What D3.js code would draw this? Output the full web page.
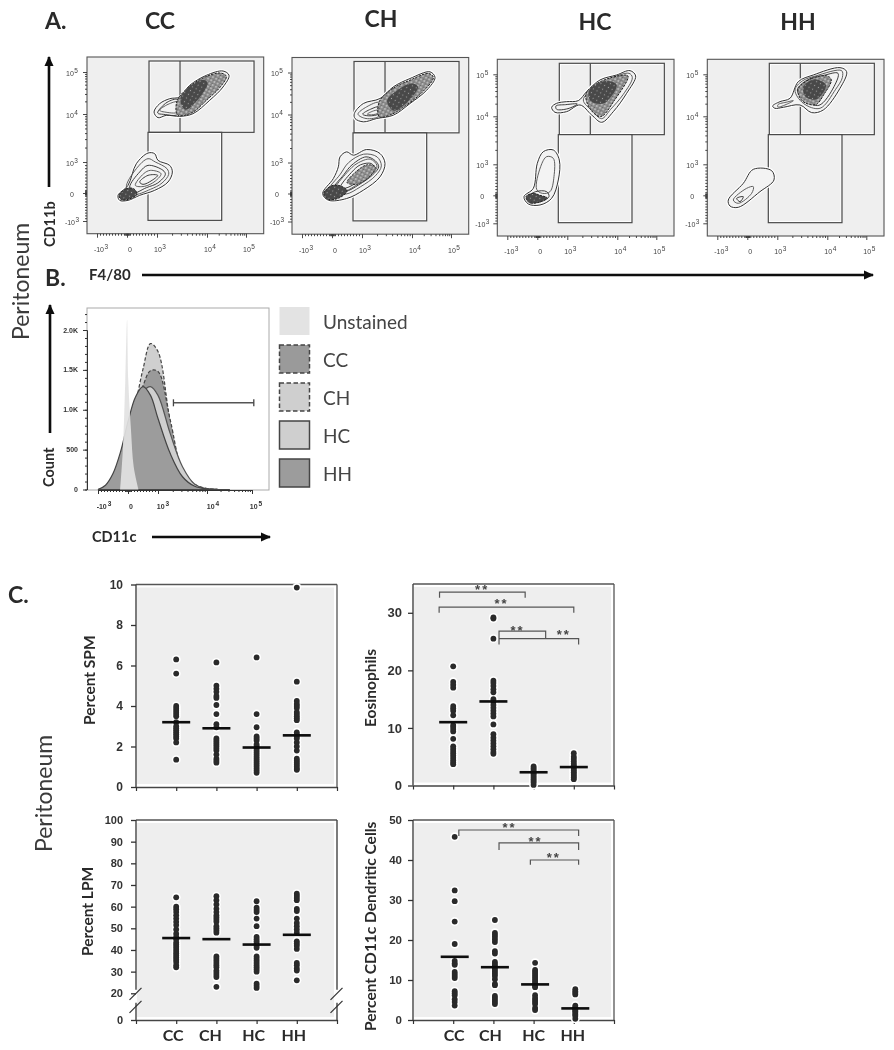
<!DOCTYPE html>
<html><head><meta charset="utf-8">
<script src="https://cdn.jsdelivr.net/npm/d3@7/dist/d3.min.js"></script>
<style>
html,body{margin:0;padding:0;background:#fff}
svg{display:block}
.h{font-family:Lato,sans-serif;font-weight:700;fill:#2a2a2a}
.t{font-family:"Liberation Sans",Arial,sans-serif;font-weight:700;fill:#333}
.lg{font-family:Lato,sans-serif;font-weight:400;fill:#444}
</style></head><body>
<div id="c"></div>
<script>
// ---------- shared labels ----------
const categories = ["CC","CH","HC","HH"];
const decadeTicks = [-1,0,1,2,3];
const decadeBase = ["-10","0","10","10","10"];
const decadeExp = ["3","","3","4","5"];

// ---------- panel A: contour levels in display channels (0-530) ----------
const ccUpper = [
 [[201,165],[218,140],[248,125],[278,120],[308,85],[358,55],[408,42],[426,55],[408,90],[368,130],[318,170],[278,178],[238,175],[213,182]],
 [[218,160],[243,142],[273,135],[273,165],[233,165]],
 [[212,168],[240,136],[272,128],[272,172],[230,172]]];
const ccUpperCore = [[270,132],[300,95],[350,62],[400,48],[418,58],[398,92],[360,128],[315,167],[272,174]];
const ccUpperDark = [[280,125],[312,85],[350,68],[362,78],[335,125],[295,158]];
const ccLower = [
 [[93,415],[123,385],[148,320],[183,288],[203,290],[213,310],[248,325],[256,345],[243,375],[203,400],[158,415],[123,430],[98,430]],
 [[118,392],[148,335],[183,305],[205,315],[240,335],[245,352],[225,378],[190,397],[140,412]],
 [[128,390],[158,345],[183,325],[228,340],[235,352],[212,378],[178,392],[138,408]],
 [[145,385],[170,350],[190,340],[222,350],[205,372],[172,388]],
 [[158,375],[183,355],[212,355],[195,370],[168,382]]];
const ccLowerDark = [[96,415],[118,395],[140,395],[150,412],[123,427],[103,428]];
const ccLowerCore = null;

const chUpper = [
 [[187,168],[214,138],[264,123],[304,88],[354,63],[414,43],[429,60],[404,98],[354,138],[304,173],[254,183],[214,193],[189,183]],
 [[198,170],[224,148],[262,135],[262,175],[222,183]],
 [[212,170],[236,155],[262,148],[262,168],[230,175]],
 [[226,170],[245,160],[262,158],[260,166],[238,172]]];
const chUpperCore = [[262,132],[304,92],[354,68],[410,48],[424,60],[390,105],[340,145],[300,170],[262,178]];
const chUpperDark = [[285,130],[320,95],[360,78],[378,88],[345,135],[305,160]];
const chLower = [
 [[92,408],[124,363],[139,328],[144,298],[164,283],[184,293],[224,276],[264,288],[279,318],[264,358],[214,398],[164,423],[109,428]],
 [[110,400],[145,350],[170,315],[215,290],[255,298],[268,325],[250,355],[205,388],[160,410]],
 [[122,398],[155,352],[180,322],[222,298],[250,310],[260,328],[242,352],[200,382],[160,402]],
 [[130,395],[165,345],[195,318],[235,305],[255,325],[240,350],[200,378],[160,400]],
 [[145,390],[178,345],[205,322],[238,318],[246,330],[228,352],[195,375],[160,392]]];
const chLowerDark = [[95,408],[118,385],[145,385],[165,400],[140,422],[108,425]];
const chLowerCore = [[165,375],[195,340],[225,322],[250,328],[235,355],[195,380]];

const hcUpper = [
 [[163,144],[178,132],[208,127],[243,124],[268,97],[308,62],[358,47],[398,34],[415,50],[388,102],[348,157],[313,189],[283,167],[248,137],[208,157],[173,159]],
 [[258,122],[290,85],[330,62],[395,42],[405,55],[378,105],[340,150],[313,178],[285,155]],
 [[176,140],[205,136],[240,134],[212,148],[178,150]]];
const hcUpperCore = [[266,104],[300,72],[362,50],[392,50],[350,125],[310,172],[278,148]];
const hcUpperDark = [[276,92],[325,65],[358,76],[320,132],[280,125]];
const hcLower = [
 [[80,412],[108,387],[120,312],[138,277],[168,272],[186,302],[183,362],[163,417],[128,437],[93,434]],
 [[118,390],[130,322],[148,292],[168,297],[170,352],[158,397],[135,402]],
 [[92,414],[115,397],[148,397],[155,412],[128,428],[100,428]]];
const hcLowerDark = [[86,412],[108,402],[128,408],[150,416],[120,430],[96,430]];
const hcLowerCore = null;

const hhUpper = [
 [[196,140],[218,127],[248,117],[273,67],[318,47],[398,25],[418,37],[398,87],[348,152],[313,160],[278,137],[228,144],[203,147]],
 [[263,92],[285,65],[325,50],[403,34],[405,55],[385,90],[338,147],[288,132]],
 [[270,92],[300,62],[350,48],[392,42],[380,82],[335,138],[296,125]],
 [[212,136],[240,128],[258,124],[240,134],[212,143]]];
const hhUpperCore = [[272,90],[312,58],[360,50],[372,62],[350,105],[325,136],[285,125]];
const hhUpperDark = [[288,82],[323,60],[356,78],[328,120],[296,114]];
const hhLower = [
 [[63,422],[108,372],[138,330],[193,334],[200,362],[158,397],[93,444],[68,440]],
 [[78,422],[118,387],[138,382],[133,402],[93,432]],
 [[88,417],[108,412],[98,427]]];

const contourSets = [
 {upper:ccUpper, core:ccUpperCore, dark:ccUpperDark, lower:ccLower, lowDark:ccLowerDark, lowCore:ccLowerCore},
 {upper:chUpper, core:chUpperCore, dark:chUpperDark, lower:chLower, lowDark:chLowerDark, lowCore:chLowerCore},
 {upper:hcUpper, core:hcUpperCore, dark:hcUpperDark, lower:hcLower, lowDark:hcLowerDark, lowCore:hcLowerCore},
 {upper:hhUpper, core:hhUpperCore, dark:hhUpperDark, lower:hhLower, lowDark:null, lowCore:null}];

// gates in the same channels
const gateUpper = [186,12,501,226];
const gateDivider = 279;
const gateLower = [183,226,404,490];

// ---------- panel B: histograms (logicle decades / counts) ----------
const histBins = [-1,-0.75,-0.5,-0.25,0,0.25,0.5,0.75,1,1.25,1.5,1.75,2,2.25,2.5];
const histHH = [0,54,200,470,850,1160,1290,1180,890,450,160,40,8,0,0];
const histHC = [0,25,115,345,700,1015,1225,1290,1180,700,285,65,8,0,0];
const histCC = [0,20,95,300,690,1010,1300,1490,1480,870,240,67,12,0,0];
const histCH = [0,15,100,330,750,1080,1510,1830,1730,850,230,60,10,0,0];
const unstainedBins = [-0.26,-0.17,-0.09,-0.03,0.01,0.1,0.19,0.35];
const unstainedCounts = [0,510,1370,2130,1370,745,285,0];
const histGate = [1.315,3.04,1087];
const countTicks = [0,500,1000,1500,2000];
const countLabels = ["0","500","1.0K","1.5K","2.0K"];
const legendNames = ["Unstained","CC","CH","HC","HH"];

// ---------- panel C: dot plots ----------
const spmCC=[6.3,5.6,4.0,3.9,3.8,3.7,3.6,3.5,3.2,3.0,2.9,2.8,2.7,2.6,2.5,2.4,2.2,1.35];
const spmCH=[6.15,5.0,4.85,4.7,4.5,4.4,4.05,3.6,3.1,2.95,2.4,2.3,2.2,2.1,2.0,1.9,1.8,1.6,1.4,1.3,1.2];
const spmHC=[6.4,3.6,2.95,2.5,2.4,2.3,2.1,2.0,1.9,1.8,1.7,1.6,1.5,1.4,1.3,1.2,1.1,1.0,0.9,0.8,0.7];
const spmHH=[9.85,5.2,4.25,4.1,4.0,3.9,3.7,3.6,3.5,3.4,3.3,2.7,2.6,2.5,2.4,2.2,2.0,1.8,1.4,1.3,1.2,1.1,1.0,0.9,0.85];
const spmMedians=[3.2,2.9,1.95,2.55];
const spmTicks=[0,2,4,6,8,10];

const eosCC=[20.7,18,17.5,17,13.8,13.4,13,12.2,10.5,10.2,9.8,9.4,8.1,6.8,6.4,6,5.6,5.2,4.8,4.4,4,3.7];
const eosCH=[29.2,29,25.5,18.2,17.8,17.3,16.7,16.2,15,14.5,14,13.5,13,12.5,12,10.6,8.9,8.3,7.8,7.3,6.8,6.3,5.8,5.5];
const eosHC=[3.3,3,2.7,2.4,2.2,2,1.7,1.4,1.1,0.8,0.5,0.1];
const eosHH=[5.6,5,4.6,4.2,3.8,3.5,3.2,2.9,2.6,2.3,2,1.7,1.4,1.1];
const eosMedians=[11,14.6,2.3,3.2];
const eosTicks=[0,10,20,30];
const eosBrackets=[[0.66,2.79,33.6,32.6,34.4,1.72],[0.65,4.0,31,30,32,2.2],[2.14,3.3,26.8,25.6,27.4,2.6],[2.14,4.12,25.5,24.5,26.7,3.75]];

const lpmCC=[64.3,60,58.8,57.5,56,54.5,53,51.5,49.5,47.5,46,45,43.5,42.5,41.5,40.5,39.5,38.5,37.5,36.5,35.5,34.5,33,32];
const lpmCH=[64.8,63,61,59,57.5,56,55,54,53,51,50,49,48,37,36,35,34,33,32,30.5,29.5,28.5,27.5,23];
const lpmHC=[62.5,59.5,58.5,57.5,54.5,51,46,45,44,43,42,41,37,36,35,34,33,32,31,30,24.5,23.5,22.5];
const lpmHH=[66,65,64,63,59,58,54.5,52.5,51,49.5,48,44,43,42,40.5,34,33,31.5,30.5,26];
const lpmMedians=[45.5,45,42.5,47];
const lpmTicks=[0,20,30,40,50,60,70,80,90,100];

const dcCC=[45.8,32.4,29.7,24.6,19,14.8,14.2,13.8,12,11.5,11,10.5,7.2,6.7,6.2,5.2,4.5,3.6];
const dcCH=[25,21.8,21.3,20.8,20.2,19.5,17.2,16.6,14.5,14,13.5,13,12.5,12,11.5,11,10.2,9,8.7,6,5.5,5,4.5,4];
const dcHC=[14.3,12.5,12,11.5,11,10.5,10,9.5,9,8.5,8.2,6.2,5.5,5,4.5,4,3,2.5];
const dcHH=[7.7,7.2,6.8,6.4,3.6,3.2,2.8,2.5,2.2,1.8,1.4,1,0.3];
const dcMedians=[15.8,13.2,8.9,2.9];
const dcTicks=[0,10,20,30,40,50];
const dcBrackets=[[1.14,4.12,47.5,46,48.7,2.4],[2.14,4.12,44.3,42.5,45.3,3.05],[2.92,4.12,40,38.8,41.3,3.5]];

// ---------- drawing ----------
const svg=d3.select("#c").append("svg").attr("width",894).attr("height",1050).attr("viewBox","0 0 894 1050");
const defs=svg.append("defs");
defs.append("filter").attr("id","soft").attr("x","-5%").attr("y","-5%").attr("width","110%").attr("height","110%")
  .append("feGaussianBlur").attr("stdDeviation",0.45);
const speck=(id,bg,dot,size,r)=>{
  const p=defs.append("pattern").attr("id",id).attr("patternUnits","userSpaceOnUse").attr("width",size).attr("height",size).attr("patternTransform","rotate(28)");
  p.append("rect").attr("width",size).attr("height",size).attr("fill",bg);
  p.append("circle").attr("cx",size/2).attr("cy",size/2).attr("r",r).attr("fill",dot);
  p.append("circle").attr("cx",0).attr("cy",0).attr("r",r*0.8).attr("fill","#222");
};
speck("speckA","#8a8a8a","#eee",3.6,0.75);
speck("speckB","#4a4a4a","#a8a8a8",4.2,0.55);
defs.append("marker").attr("id","ah").attr("viewBox","0 0 10 10").attr("refX",9).attr("refY",5)
  .attr("markerWidth",10).attr("markerHeight",10).attr("markerUnits","userSpaceOnUse").attr("orient","auto")
  .append("path").attr("d","M0,0.5L10,5L0,9.5Z").attr("fill","#111");

const root=svg.append("g").attr("filter","url(#soft)");
const arrow=(x1,y1,x2,y2,w=2.6)=>root.append("line").attr("x1",x1).attr("y1",y1).attr("x2",x2).attr("y2",y2)
  .attr("stroke","#111").attr("stroke-width",w).attr("marker-end","url(#ah)");
const label=(txt,x,y,size,cls="h",rot=0,anchor="start")=>{
  const t=root.append("text").attr("class",cls).attr("font-size",size).attr("text-anchor",anchor).text(txt);
  t.attr("transform",`translate(${x},${y})`+(rot?` rotate(${rot})`:""));return t;};

// headings
label("A.",45,29,23);label("B.",45,286,23);label("C.",8,603,23);
label("CC",160,29,23,"h",0,"middle");label("CH",381,27,23,"h",0,"middle");
label("HC",595,30,23,"h",0,"middle");label("HH",798,30,23,"h",0,"middle");
label("Peritoneum",29,340,23,"lg",-90).style("fill","#3a3a3a");
label("Peritoneum",52,852,23,"lg",-90).style("fill","#3a3a3a");
label("CD11b",55,247,14.5,"h",-90);
label("F4/80",89,280,15);
label("Count",54,487,14.5,"h",-90);
label("CD11c",92,542,14.5);
arrow(49,187,49,57);arrow(142,275,873,275);arrow(50,433,50,305);arrow(152,537,270,537);

const minorDecades=[...d3.range(-9,0).map(d=>d*0.1),
  ...d3.range(1,10).map(d=>d*0.1),
  ...[1,2].flatMap(dec=>d3.range(2,10).map(k=>dec+Math.log10(k))),
  -0.06,-0.04,-0.02,0.02,0.04,0.06];

function expLabel(g,x,y,i,fs=7){
  const t=g.append("text").attr("x",x).attr("y",y).attr("text-anchor","middle").attr("font-size",fs)
    .attr("font-family","Liberation Sans,Arial,sans-serif").attr("fill","#444").text(decadeBase[i]);
  if(decadeExp[i]) t.append("tspan").attr("dy",-3).attr("font-size",fs-0.5).attr("dx",0.5).text(decadeExp[i]);
}

// ---------- A: contour panels ----------
const PW=176.7;
const frames=[[87,57],[292,57.5],[497.3,59.3],[707.3,59.3]];
const xCh=d3.scaleLinear().domain([0,530]).range([0,PW]);
const yCh=d3.scaleLinear().domain([0,530]).range([0,PW]);
const xDec=d3.scaleLinear().domain(decadeTicks).range([10,40,70,120,159]);
const yDec=d3.scaleLinear().domain(decadeTicks).range([164,136,105,57,15]);
const ring=d3.line().x(d=>xCh(d[0])).y(d=>yCh(d[1])).curve(d3.curveCatmullRomClosed.alpha(0.5));

frames.forEach((f,fi)=>{
  const g=root.append("g").attr("transform",`translate(${f[0]},${f[1]})`);
  g.append("rect").attr("width",PW).attr("height",PW).attr("fill","#efefef").attr("stroke","#555").attr("stroke-width",1.1);
  // gates
  const gate=(r,sw)=>g.append("rect").attr("x",xCh(r[0])).attr("y",yCh(r[1])).attr("width",xCh(r[2]-r[0])).attr("height",yCh(r[3]-r[1]))
     .attr("fill","none").attr("stroke","#4a4a4a").attr("stroke-width",sw);
  [gateUpper,gateLower].forEach(r=>{
    g.append("rect").attr("x",xCh(r[0])+1).attr("y",yCh(r[1])+1).attr("width",xCh(r[2]-r[0])-2).attr("height",yCh(r[3]-r[1])-2)
      .attr("fill","none").attr("stroke","#fff").attr("stroke-width",1);
    gate(r,1.2);
  });
  g.append("line").attr("x1",xCh(gateDivider)).attr("x2",xCh(gateDivider)).attr("y1",yCh(gateUpper[1])).attr("y2",yCh(gateUpper[3]))
    .attr("stroke","#4a4a4a").attr("stroke-width",1.2);
  // contours
  const s=contourSets[fi];
  [s.upper,s.lower].forEach(rs=>{
    g.append("path").attr("d",ring(rs[0])).attr("fill","#fff").attr("stroke","#fff").attr("stroke-width",3.2);
    g.append("path").attr("d",ring(rs[0])).attr("fill","#f3f3f3").attr("stroke","#333").attr("stroke-width",1);
    rs.slice(1).forEach((r,i)=>g.append("path").attr("d",ring(r)).attr("fill","none").attr("stroke",i%2?"#333":"#555").attr("stroke-width",0.95));
  });
  g.append("path").attr("d",ring(s.core)).attr("fill","url(#speckA)").attr("stroke","#222").attr("stroke-width",1).attr("stroke-dasharray","2.4 1.1");
  g.append("path").attr("d",ring(s.dark)).attr("fill","url(#speckB)");
  if(s.lowCore) g.append("path").attr("d",ring(s.lowCore)).attr("fill","url(#speckA)").attr("stroke","#222").attr("stroke-width",0.9).attr("stroke-dasharray","2.4 1.1");
  if(s.lowDark) g.append("path").attr("d",ring(s.lowDark)).attr("fill","url(#speckB)").attr("stroke","#222").attr("stroke-width",1).attr("stroke-dasharray","2.4 1");
  // axes
  const ya=g.append("g").call(d3.axisLeft(yDec).tickValues(decadeTicks).tickSize(4).tickFormat("").tickSizeOuter(0));
  const ym=g.append("g").call(d3.axisLeft(yDec).tickValues(minorDecades).tickSize(2).tickFormat("").tickSizeOuter(0));
  const xa=g.append("g").attr("transform",`translate(0,${PW})`).call(d3.axisBottom(xDec).tickValues(decadeTicks).tickSize(4).tickFormat("").tickSizeOuter(0));
  const xm=g.append("g").attr("transform",`translate(0,${PW})`).call(d3.axisBottom(xDec).tickValues(minorDecades).tickSize(2).tickFormat("").tickSizeOuter(0));
  [ya,ym,xa,xm].forEach(a=>{a.select(".domain").remove();a.selectAll("line").attr("stroke","#333").attr("stroke-width",0.9);});
  decadeTicks.forEach((d,i)=>{
    expLabel(g,xDec(d)+(i?3:4),PW+18.5,i);
    expLabel(g,-15,yDec(d)+3.5,i);
  });
});

// ---------- B: histogram ----------
const hx=d3.scaleLinear().domain(decadeTicks).range([98,128,158,207,252]);
const hy=d3.scaleLinear().domain([0,2000]).range([489.5,330]);
const B=root.append("g");
B.append("rect").attr("x",87).attr("y",308).attr("width",182).attr("height",182).attr("fill","#fff").attr("stroke","#aaa").attr("stroke-width",1);
const area=d3.area().x(d=>hx(d[0])).y0(hy(0)).y1(d=>hy(d[1])).curve(d3.curveCatmullRom.alpha(0.5));
const histStyles=[
 {v:histCH,fill:"#cfcfcf",stroke:"#444",dash:"3.5 2"},
 {v:histCC,fill:"#9a9a9a",stroke:"#444",dash:"3.5 2"},
 {v:histHC,fill:"#cfcfcf",stroke:"#555",dash:null},
 {v:histHH,fill:"#9c9c9c",stroke:"#444",dash:null}];
histStyles.forEach(h=>{
  B.append("path").attr("d",area(histBins.map((b,i)=>[b,h.v[i]]))).attr("fill",h.fill).attr("stroke",h.stroke)
   .attr("stroke-width",1.2).attr("stroke-dasharray",h.dash);
});
B.append("path").attr("d",area(unstainedBins.map((b,i)=>[b,unstainedCounts[i]]))).attr("fill","#e2e2e2").attr("fill-opacity",0.92);
const bX=B.append("g").attr("transform","translate(0,490)").call(d3.axisBottom(hx).tickValues(decadeTicks).tickSize(4).tickFormat("").tickSizeOuter(0));
const bXm=B.append("g").attr("transform","translate(0,490)").call(d3.axisBottom(hx).tickValues(minorDecades).tickSize(2).tickFormat("").tickSizeOuter(0));
const bY=B.append("g").attr("transform","translate(87,0)").call(d3.axisLeft(hy).tickValues(countTicks).tickSize(4).tickFormat("").tickSizeOuter(0));
const bYm=B.append("g").attr("transform","translate(87,0)").call(d3.axisLeft(hy).tickValues(d3.range(0,2300,100)).tickSize(2).tickFormat("").tickSizeOuter(0));
[bX,bXm,bY,bYm].forEach(a=>{a.select(".domain").attr("stroke","#333");a.selectAll("line").attr("stroke","#333").attr("stroke-width",1);});
decadeTicks.forEach((d,i)=>{
  const t=B.append("text").attr("x",hx(d)+[6,3,5,6,4][i]).attr("y",509).attr("text-anchor","middle").attr("font-size",7).attr("class","t").text(decadeBase[i]);
  if(decadeExp[i]) t.append("tspan").attr("dy",-3).attr("font-size",6.5).attr("dx",1).text(decadeExp[i]);
});
countTicks.forEach((c,i)=>B.append("text").attr("class","t").attr("x",78).attr("y",hy(c)+2.5).attr("text-anchor","end").attr("font-size",7).text(countLabels[i]));
const gx1=hx(histGate[0]),gx2=hx(histGate[1]),gy=hy(histGate[2]);
B.append("line").attr("x1",gx1).attr("x2",gx2).attr("y1",gy).attr("y2",gy).attr("stroke","#555").attr("stroke-width",1.6);
[gx1,gx2].forEach(x=>B.append("line").attr("x1",x).attr("x2",x).attr("y1",gy-3.5).attr("y2",gy+3.5).attr("stroke","#444").attr("stroke-width",1.3));
// legend
const legendStyles=[
 {fill:"#e3e3e3",stroke:"none",dash:null},
 {fill:"#9a9a9a",stroke:"#444",dash:"4.5 2.5"},
 {fill:"#cfcfcf",stroke:"#444",dash:"4.5 2.5"},
 {fill:"#cfcfcf",stroke:"#444",dash:null},
 {fill:"#9c9c9c",stroke:"#444",dash:null}];
const legendTops=[307,345,383,421,459];
legendNames.forEach((n,i)=>{
  B.append("rect").attr("x",279.5).attr("y",legendTops[i]).attr("width",30).attr("height",28)
   .attr("fill",legendStyles[i].fill).attr("stroke",legendStyles[i].stroke).attr("stroke-width",1.5).attr("stroke-dasharray",legendStyles[i].dash);
  B.append("text").attr("class","lg").attr("x",323).attr("y",legendTops[i]+21.5).attr("font-size",19).text(n);
});

// ---------- C: dot plots ----------
function dotPlot(o){
  const g=root.append("g");
  const x=d3.scaleLinear().domain([0,5]).range([o.x0,o.x0+201]);
  const y=d3.scaleLinear().domain(o.domain).range(o.range);
  const x1=x(5), yB=o.range[0], yT=o.range[o.range.length-1];
  g.append("rect").attr("x",o.x0+1).attr("y",yT+3).attr("width",x1-o.x0-4).attr("height",yB-yT-6).attr("fill","#eee");
  const ln=(a,b,c,d,st="#555",w=1.3)=>g.append("line").attr("x1",a).attr("y1",b).attr("x2",c).attr("y2",d).attr("stroke",st).attr("stroke-width",w);
  ln(o.x0,yT,x1,yT);
  if(o.broken){
    const b1=y(20)+0.5,b2=y(20)+13.5;
    [o.x0,x1].forEach(xx=>{ ln(xx,yT,xx,b1-4,"#444",1.4); ln(xx,b2-4,xx,yB,"#444",1.4);
      [b1,b2].forEach(b=>ln(xx-6.5,b+6,xx+5.5,b-6,"#333",1.2)); });
  } else { ln(x1,yT,x1,yB); ln(o.x0,yT,o.x0,yB,"#444",1.4); }
  const ax=g.append("g").attr("transform",`translate(${o.x0},0)`).call(d3.axisLeft(y).tickValues(o.ticks).tickSize(5).tickPadding(o.pad).tickSizeOuter(0));
  ax.select(".domain").remove();
  ax.selectAll("line").attr("stroke","#333").attr("stroke-width",1.3);
  ax.selectAll("text").attr("class","t").attr("font-size",o.tickFont);
  const bx=g.append("g").attr("transform",`translate(0,${yB})`).call(d3.axisBottom(x).tickValues([0,1,2,3,4,5]).tickSize(4).tickFormat("").tickSizeOuter(0));
  bx.select(".domain").attr("stroke","#444").attr("stroke-width",1.4);
  bx.selectAll("line").attr("stroke","#333").attr("stroke-width",1.2);
  label(o.title,o.titleX,o.titleY,o.titleFont,"h",-90,"start");
  const px=i=>x(i+1)+(o.dx||0);
  o.series.forEach((s,i)=>g.selectAll(null).data(s).join("circle").attr("cx",px(i)).attr("cy",d=>y(d)).attr("r",4.5).attr("fill","#fff"));
  o.series.forEach((s,i)=>g.selectAll(null).data(s).join("circle").attr("cx",px(i)).attr("cy",d=>y(d)).attr("r",2.9).attr("fill","#2a2a2a"));
  o.medians.forEach((m,i)=>g.append("line").attr("x1",px(i)-14).attr("x2",px(i)+14).attr("y1",y(m)).attr("y2",y(m)).attr("stroke","#0a0a0a").attr("stroke-width",2.6));
  (o.brackets||[]).forEach(b=>{
    const xa=x(b[0]),xb=x(b[1]);
    g.append("path").attr("d",`M${xa},${y(b[3])}V${y(b[2])}H${xb}V${y(b[3])}`).attr("fill","none").attr("stroke","#555").attr("stroke-width",1.2);
    g.append("text").attr("class","t").attr("x",x(b[5])).attr("y",y(b[4])+7).attr("text-anchor","middle")
      .attr("font-size",13).attr("letter-spacing",2).style("fill","#444").text("**");
  });
  if(o.showCats) categories.forEach((c,i)=>g.append("text").attr("class","h").attr("x",x(i+1)+o.catDx[i]).attr("y",yB+20.5)
      .attr("text-anchor","middle").attr("font-size",16).text(c));
}
dotPlot({x0:136,domain:[0,10],range:[787,584.5],ticks:spmTicks,series:[spmCC,spmCH,spmHC,spmHH],medians:spmMedians,title:"Percent SPM",titleX:95,titleY:725,titleFont:15.5,tickFont:12,pad:8});
dotPlot({x0:413,domain:[0,35],range:[785.5,584],ticks:eosTicks,series:[eosCC,eosCH,eosHC,eosHH],medians:eosMedians,title:"Eosinophils",titleX:376,titleY:727,titleFont:15.5,brackets:eosBrackets,tickFont:13,pad:6});
dotPlot({x0:136,domain:[0,20,100],range:[1020,993.3,820],ticks:lpmTicks,series:[lpmCC,lpmCH,lpmHC,lpmHH],medians:lpmMedians,title:"Percent LPM",titleX:93,titleY:956,titleFont:15.5,broken:true,showCats:true,catDx:[-3,-6,-3,-3],tickFont:11,pad:8});
dotPlot({x0:413,domain:[0,50],range:[1020,820],ticks:dcTicks,series:[dcCC,dcCH,dcHC,dcHH],medians:dcMedians,title:"Percent CD11c Dendritic Cells",titleX:376,titleY:1031,titleFont:15.5,brackets:dcBrackets,showCats:true,catDx:[1,-3,0,-1],dx:1.5,tickFont:11.5,pad:6});
</script></body></html>
